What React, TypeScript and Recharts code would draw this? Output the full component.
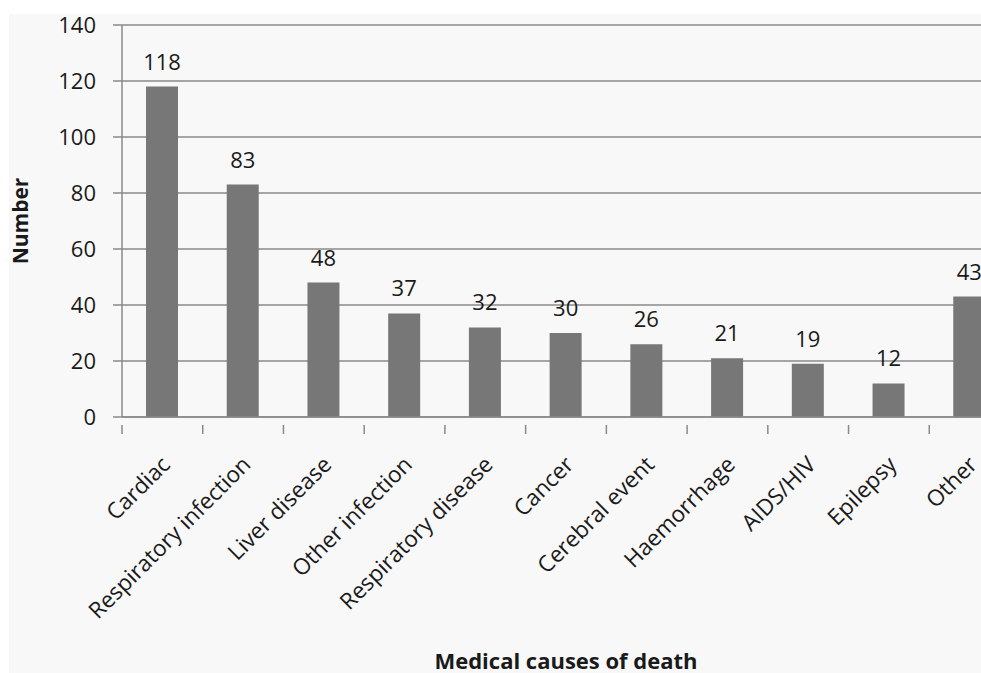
import React from "react";
import { BarChart, Bar, XAxis, YAxis, CartesianGrid, LabelList, Label } from "recharts";

const categories = [
  "Cardiac",
  "Respiratory infection",
  "Liver disease",
  "Other infection",
  "Respiratory disease",
  "Cancer",
  "Cerebral event",
  "Haemorrhage",
  "AIDS/HIV",
  "Epilepsy",
  "Other",
];
const counts = [118, 83, 48, 37, 32, 30, 26, 21, 19, 12, 43];
const yTicks = [0, 20, 40, 60, 80, 100, 120, 140];

const data = categories.map((c, i) => ({ name: c, value: counts[i] }));

const FONT = "'Open Sans', sans-serif";
const CHART_W = 1020;
const CHART_H = 659;
const MARGIN = { top: 11, right: 19, left: 0, bottom: 0 };
const Y_W = 113;
const PLOT_W = CHART_W - MARGIN.right - MARGIN.left - Y_W;
const BAND = PLOT_W / categories.length;

const XTick = (props: any) => {
  const { x, y, payload } = props;
  const left = x - BAND / 2;
  const ax = x + 9;
  const ay = y + 41;
  return (
    <g>
      <line x1={left} y1={y} x2={left} y2={y + 9} stroke="#8a8a8a" strokeWidth={1.5} />
      <text
        x={ax}
        y={ay}
        transform={`rotate(-45, ${ax}, ${ay})`}
        textAnchor="end"
        fontFamily={FONT}
        fontSize={22.5}
        fill="#1a1a1a"
      >
        {payload.value}
      </text>
    </g>
  );
};

export default function App() {
  return (
    <div
      style={{
        position: "fixed",
        left: 9,
        top: 14,
        width: 972,
        height: 659,
        overflow: "hidden",
        background: "#f8f8f8",
      }}
    >
      <BarChart width={CHART_W} height={CHART_H} data={data} margin={MARGIN}>
        <CartesianGrid vertical={false} stroke="#8a8a8a" strokeWidth={1.5} />
        <XAxis
          dataKey="name"
          interval={0}
          height={256}
          tickLine={false}
          axisLine={{ stroke: "#8a8a8a", strokeWidth: 1.5 }}
          tick={<XTick />}
        >
          <Label
            content={(p: any) => {
              const vb = p.viewBox;
              return (
                <text
                  x={vb.x + vb.width / 2}
                  y={vb.y + vb.height - 4}
                  textAnchor="middle"
                  fontFamily={FONT}
                  fontWeight="bold"
                  fontSize={22}
                  fill="#1a1a1a"
                >
                  Medical causes of death
                </text>
              );
            }}
          />
        </XAxis>
        <YAxis
          width={Y_W}
          domain={[0, 140]}
          ticks={yTicks}
          interval={0}
          tickSize={9}
          tickMargin={17}
          tickLine={{ stroke: "#8a8a8a", strokeWidth: 1.5 }}
          axisLine={{ stroke: "#8a8a8a", strokeWidth: 1.5 }}
          tick={{ fontFamily: FONT, fontSize: 22, fill: "#1a1a1a" }}
        >
          <Label
            content={(p: any) => {
              const vb = p.viewBox;
              const cx = 11;
              const cy = vb.y + vb.height / 2;
              return (
                <text
                  x={cx}
                  y={cy}
                  transform={`rotate(-90, ${cx}, ${cy})`}
                  textAnchor="middle"
                  dominantBaseline="central"
                  fontFamily={FONT}
                  fontWeight="bold"
                  fontSize={21}
                  fill="#1a1a1a"
                >
                  Number
                </text>
              );
            }}
          />
        </YAxis>
        <Bar dataKey="value" fill="#777777" barSize={32} isAnimationActive={false}>
          <LabelList
            dataKey="value"
            position="top"
            offset={17}
            fontFamily={FONT}
            fontSize={22}
            fill="#1a1a1a"
          />
        </Bar>
      </BarChart>
    </div>
  );
}
